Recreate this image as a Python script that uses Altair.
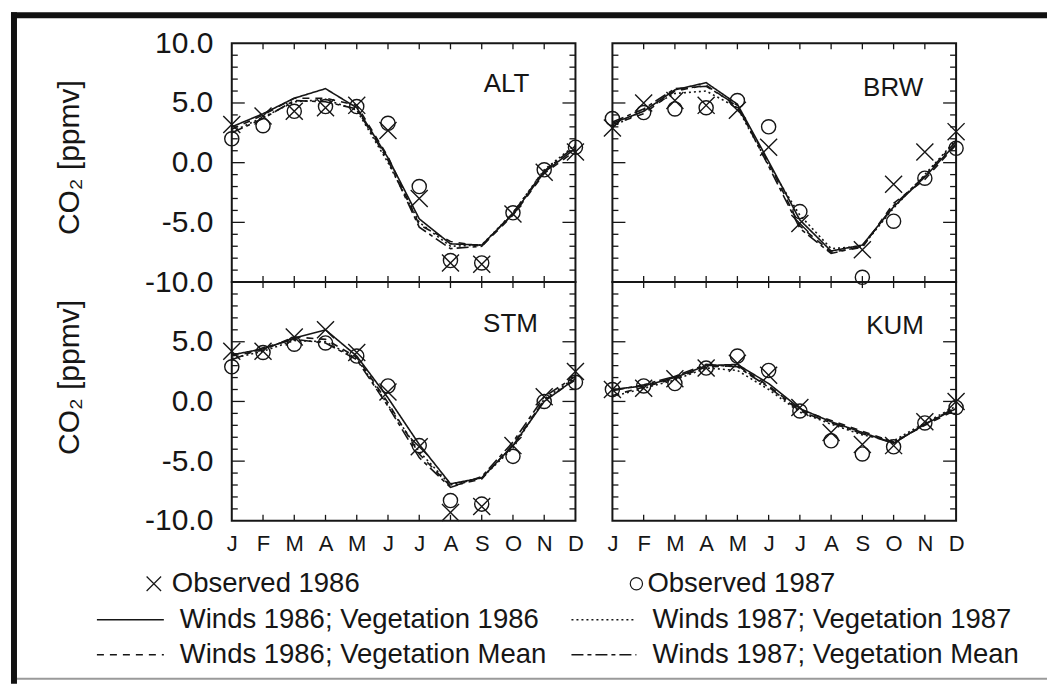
import json

import altair as alt
import pandas as pd

# ---------------------------------------------------------------- data
MONTHS = ["J", "F", "M", "A", "M", "J", "J", "A", "S", "O", "N", "D"]
MONTH_NUM = list(range(1, 13))
STATIONS = ["ALT", "BRW", "STM", "KUM"]
OBS_NAMES = ["Observed 1986", "Observed 1987"]
RUN_NAMES = [
    "Winds 1986; Vegetation 1986",
    "Winds 1987; Vegetation 1987",
    "Winds 1986; Vegetation Mean",
    "Winds 1987; Vegetation Mean",
]

# CO2 seasonal cycle, ppmv
ALT_OBS86 = [3.2, 3.9, 4.3, 4.6, 4.8, 2.7, -3.0, -8.4, -8.5, -4.3, -0.8, 0.9]
ALT_OBS87 = [2.0, 3.1, 4.3, 4.7, 4.7, 3.3, -2.0, -8.2, -8.4, -4.2, -0.6, 1.3]
ALT_W86V86 = [3.0, 4.1, 5.4, 6.2, 4.6, 0.4, -4.7, -6.8, -6.9, -4.3, -0.8, 1.2]
ALT_W87V87 = [2.6, 3.8, 5.1, 5.3, 4.4, 0.0, -5.0, -7.0, -6.9, -4.2, -0.6, 1.5]
ALT_W86VM = [2.8, 4.0, 5.4, 5.4, 4.8, 0.5, -5.2, -6.6, -7.0, -4.4, -0.9, 1.0]
ALT_W87VM = [2.5, 3.7, 5.2, 5.1, 4.5, 0.2, -5.4, -7.2, -7.0, -4.2, -0.7, 1.4]

BRW_OBS86 = [2.9, 5.0, 5.2, 4.8, 4.4, 1.3, -5.1, None, -7.3, -1.8, 0.9, 2.6]
BRW_OBS87 = [3.7, 4.2, 4.5, 4.6, 5.2, 3.0, -4.1, None, -9.6, -4.9, -1.3, 1.2]
BRW_W86V86 = [3.3, 4.3, 6.1, 6.7, 4.9, 0.1, -4.8, -7.4, -6.9, -3.7, -1.2, 1.6]
BRW_W87V87 = [3.0, 4.4, 5.8, 6.0, 4.6, -0.2, -4.4, -7.2, -7.0, -3.8, -1.0, 1.9]
BRW_W86VM = [3.2, 4.1, 6.0, 6.5, 4.7, 0.0, -5.3, -7.5, -7.1, -3.4, -1.4, 1.5]
BRW_W87VM = [3.4, 4.5, 6.2, 6.4, 4.8, -0.3, -5.5, -7.6, -7.0, -3.6, -1.1, 1.8]

STM_OBS86 = [4.2, 4.2, 5.4, 6.0, 4.1, 0.8, -3.8, -9.3, -8.8, -3.7, 0.4, 2.5]
STM_OBS87 = [2.9, 4.1, 4.8, 4.9, 3.8, 1.3, -3.7, -8.3, -8.6, -4.6, 0.0, 1.6]
STM_W86V86 = [3.9, 4.4, 5.3, 6.0, 3.8, 0.3, -3.6, -6.9, -6.4, -3.7, 0.0, 1.9]
STM_W87V87 = [3.6, 4.2, 5.1, 5.0, 3.6, -0.3, -4.2, -7.0, -6.4, -3.9, 0.2, 2.0]
STM_W86VM = [3.8, 4.3, 5.4, 5.2, 3.7, -0.1, -4.4, -7.1, -6.5, -3.6, 0.1, 1.8]
STM_W87VM = [3.5, 4.5, 5.2, 4.9, 3.5, -0.4, -4.7, -7.2, -6.3, -3.4, 0.4, 2.1]

KUM_OBS86 = [1.0, 1.1, 1.9, 2.8, 3.2, 2.2, -0.5, -2.6, -3.6, -3.7, -1.7, 0.0]
KUM_OBS87 = [1.0, 1.3, 1.5, 2.8, 3.8, 2.6, -0.8, -3.3, -4.4, -3.8, -1.8, -0.5]
KUM_W86V86 = [1.0, 1.3, 2.0, 3.0, 3.1, 1.5, -0.6, -1.7, -2.6, -3.5, -1.9, -0.6]
KUM_W87V87 = [0.4, 1.1, 1.8, 2.8, 2.6, 1.0, -0.9, -1.9, -2.8, -3.3, -1.8, -0.4]
KUM_W86VM = [0.5, 1.2, 1.9, 2.9, 3.0, 1.3, -0.7, -1.6, -2.5, -3.4, -2.0, -0.7]
KUM_W87VM = [0.9, 1.4, 2.1, 3.1, 2.9, 1.2, -0.8, -1.8, -2.7, -3.5, -1.9, -0.5]

Y_LABELS_TOP = [-10, -5, 0, 5, 10]
Y_LABELS_BOTTOM = [-10, -5, 0, 5]

# ---------------------------------------------------------------- style
INK = "#161616"
FONT = "Liberation Sans"
PANEL_W, PANEL_H = 344, 239
GAP = 37
CROSS = "M-1,-1L1,1M-1,1L1,-1"
DASHES = [[1, 0], [2, 3], [7, 6], [12, 4, 4, 4]]

X_SCALE = alt.Scale(domain=[1, 12], nice=False, zero=False)
Y_SCALE = alt.Scale(domain=[-10, 10], nice=False, zero=False)

MINOR_Y = [v for v in range(-9, 10) if v % 5]
MAJOR_Y = [-5, 0, 5]
INNER_MONTHS = MONTH_NUM[1:-1]

MONTH_EXPR = json.dumps(MONTHS) + "[datum.value - 1]"
SIGNED_EXPR = "(datum.value < 0 ? '-' : '') + format(abs(datum.value), '.1f')"


# ---------------------------------------------------------------- key + frame pieces
def key_text(text, x, y):
    return alt.Chart(pd.DataFrame({"t": [text]})).mark_text(
        font=FONT, fontSize=27.5, color=INK, align="left", baseline="middle"
    ).encode(x=alt.value(x), y=alt.value(y), text="t:N")


def key_symbol(shape, size, x, y):
    return alt.Chart(pd.DataFrame({"s": [shape]})).mark_point(
        shape=shape, size=size, filled=False, strokeWidth=1.2, color=INK, opacity=1
    ).encode(x=alt.value(x), y=alt.value(y))


def key_line(dash, x0, x1, y):
    return alt.Chart(pd.DataFrame({"d": [0]})).mark_rule(
        color=INK, strokeWidth=1.6, strokeDash=dash, strokeCap="butt"
    ).encode(x=alt.value(x0), x2=alt.value(x1), y=alt.value(y))


def frame_rule(x0, x1, y0, y1, width, color):
    return alt.Chart(pd.DataFrame({"d": [0]})).mark_rule(
        color=color, strokeWidth=width, strokeCap="butt"
    ).encode(x=alt.value(x0), x2=alt.value(x1), y=alt.value(y0), y2=alt.value(y1))


# key rows sit below the lower-left panel (pixel offsets from its top-left corner)
ROWS = [302, 338, 373]
KEY_LAYERS = [
    key_symbol(CROSS, 210, -78, ROWS[0]), key_text(OBS_NAMES[0], -60, ROWS[0]),
    key_symbol("circle", 150, 405, ROWS[0]), key_text(OBS_NAMES[1], 416, ROWS[0]),
    key_line(DASHES[0], -135, -68, ROWS[1]), key_text(RUN_NAMES[0], -52, ROWS[1]),
    key_line(DASHES[1], 340, 405, ROWS[1]), key_text(RUN_NAMES[1], 421, ROWS[1]),
    key_line(DASHES[2], -135, -68, ROWS[2]), key_text(RUN_NAMES[2], -52, ROWS[2]),
    key_line(DASHES[3], 340, 405, ROWS[2]), key_text(RUN_NAMES[3], 421, ROWS[2]),
    # page frame
    frame_rule(-218, -218, -270, 402, 6, "#111111"),
    frame_rule(-221, 816, -267, -267, 6, "#111111"),
    frame_rule(-215, 816, 397, 397, 2, "#9a9a9a"),
]


def panel(name, obs86, obs87, runs, label_xy, y_values=None, title_y=None,
          show_x=False, extra=()):
    run_df = pd.DataFrame({
        "month": MONTH_NUM * len(RUN_NAMES),
        "run": [r for r in RUN_NAMES for _ in MONTH_NUM],
        "co2": [v for series in runs for v in series],
    })
    obs_df = pd.DataFrame({"month": MONTH_NUM, "o86": obs86, "o87": obs87})

    if show_x:
        x_axis = alt.Axis(
            values=MONTH_NUM, labelExpr=MONTH_EXPR, ticks=False, domain=False,
            grid=False, labelFlush=False, labelOverlap=False, labelBound=False,
            labelFont=FONT, labelFontSize=22, labelColor=INK, labelPadding=13,
            title=None,
        )
    else:
        x_axis = None
    if y_values is not None:
        y_axis = alt.Axis(
            values=y_values, labelExpr=SIGNED_EXPR, ticks=False, domain=False,
            grid=False, labelOverlap=False, labelFont=FONT, labelFontSize=30,
            labelColor=INK, labelPadding=19, title="CO₂ [ppmv]", titleFont=FONT,
            titleFontSize=30, titleFontWeight="normal", titleColor=INK,
            titlePadding=60, titleY=title_y,
        )
    else:
        y_axis = None

    def xq(field):
        return alt.X(field, scale=X_SCALE, axis=x_axis)

    def yq(field):
        return alt.Y(field, scale=Y_SCALE, axis=y_axis)

    def y_ticks(values, x0, x1):
        return alt.Chart(pd.DataFrame({"v": values})).mark_rule(
            color=INK, strokeWidth=1.3
        ).encode(y=yq("v:Q"), x=alt.value(x0), x2=alt.value(x1))

    def x_ticks(values, y0, y1):
        return alt.Chart(pd.DataFrame({"v": values})).mark_rule(
            color=INK, strokeWidth=1.3
        ).encode(x=xq("v:Q"), y=alt.value(y0), y2=alt.value(y1))

    lines = alt.Chart(run_df).mark_line(strokeWidth=1.6, color=INK).encode(
        x=xq("month:Q"),
        y=yq("co2:Q"),
        strokeDash=alt.StrokeDash(
            "run:N", scale=alt.Scale(domain=RUN_NAMES, range=DASHES), legend=None
        ),
    )
    crosses = alt.Chart(obs_df).mark_point(
        shape=CROSS, size=290, filled=False, strokeWidth=1.4, color=INK, opacity=1
    ).encode(x=xq("month:Q"), y=yq("o86:Q"))
    circles = alt.Chart(obs_df).mark_point(
        shape="circle", size=200, filled=False, strokeWidth=1.4, color=INK, opacity=1
    ).encode(x=xq("month:Q"), y=yq("o87:Q"))
    label = alt.Chart(pd.DataFrame({"station": [name]})).mark_text(
        font=FONT, fontSize=26, color=INK, align="center", baseline="middle"
    ).encode(x=alt.value(label_xy[0]), y=alt.value(label_xy[1]), text="station:N")

    ticks = [
        y_ticks(MINOR_Y, 0, 6), y_ticks(MAJOR_Y, 0, 13),
        y_ticks(MINOR_Y, PANEL_W - 6, PANEL_W), y_ticks(MAJOR_Y, PANEL_W - 13, PANEL_W),
        x_ticks(INNER_MONTHS, 0, 6), x_ticks(INNER_MONTHS, PANEL_H - 6, PANEL_H),
    ]
    return alt.layer(lines, *ticks, crosses, circles, label, *extra).properties(
        width=PANEL_W, height=PANEL_H
    )


alt_panel = panel("ALT", ALT_OBS86, ALT_OBS87,
                  [ALT_W86V86, ALT_W87V87, ALT_W86VM, ALT_W87VM],
                  (275, 41), y_values=Y_LABELS_TOP, title_y=114)
brw_panel = panel("BRW", BRW_OBS86, BRW_OBS87,
                  [BRW_W86V86, BRW_W87V87, BRW_W86VM, BRW_W87VM], (281, 45))
stm_panel = panel("STM", STM_OBS86, STM_OBS87,
                  [STM_W86V86, STM_W87V87, STM_W86VM, STM_W87VM],
                  (279, 42), y_values=Y_LABELS_BOTTOM, title_y=95, show_x=True,
                  extra=KEY_LAYERS)
kum_panel = panel("KUM", KUM_OBS86, KUM_OBS87,
                  [KUM_W86V86, KUM_W87V87, KUM_W86VM, KUM_W87VM], (283, 44), show_x=True)

chart = alt.concat(
    alt_panel, brw_panel, stm_panel, kum_panel,
    columns=2, spacing={"row": 0, "column": GAP}, bounds="flush",
).properties(
    padding={"left": 7, "top": 8, "right": 0, "bottom": 0},
    background="white",
).configure_view(stroke=INK, strokeWidth=2)

chart.save("out.html", embed_options={"renderer": "svg", "actions": False})
